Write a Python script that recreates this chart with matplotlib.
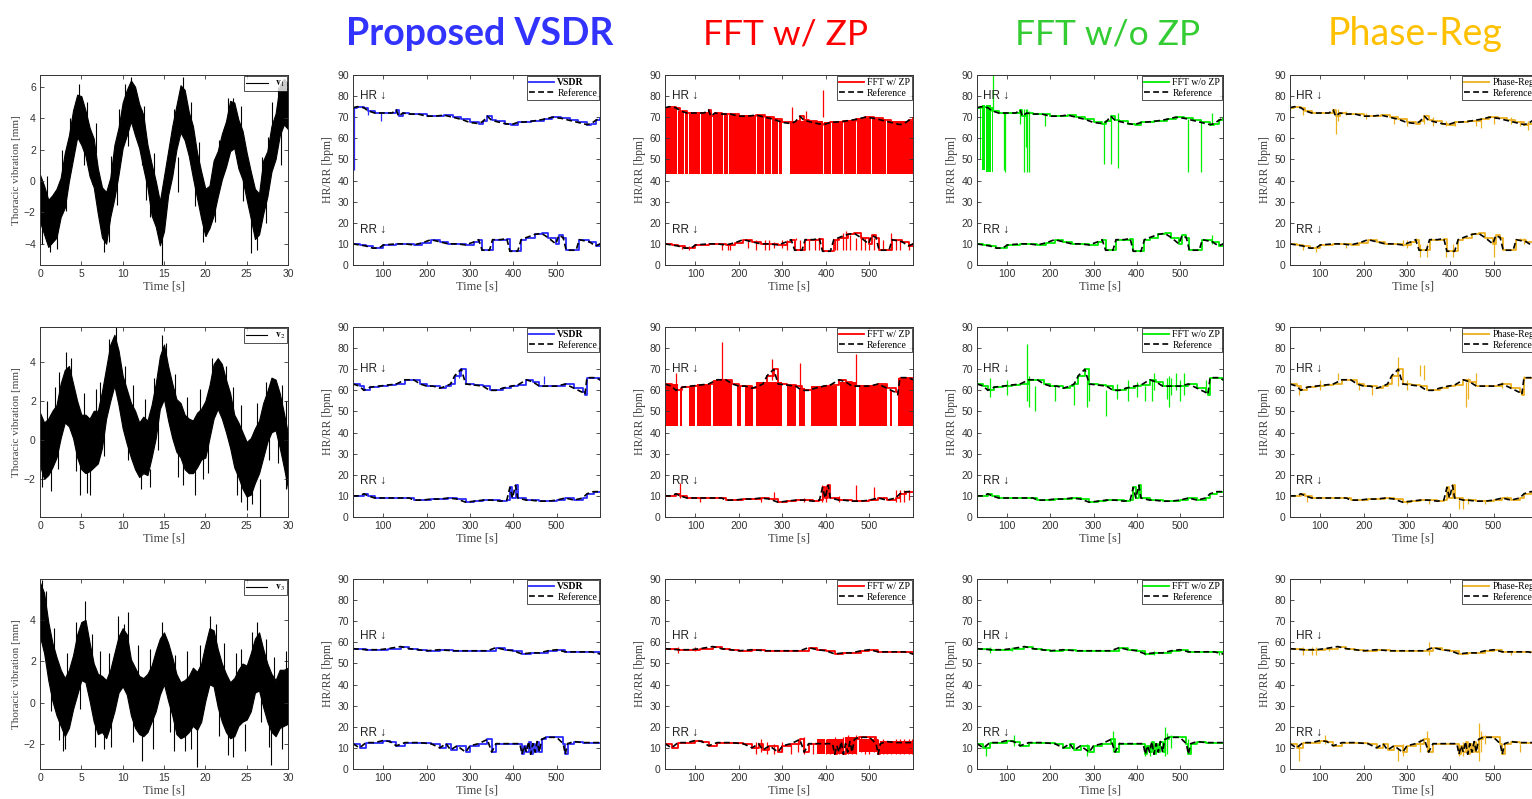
import numpy as np
import matplotlib.pyplot as plt

plt.rcParams['font.family'] = ['Liberation Sans', 'DejaVu Sans']
plt.rcParams['mathtext.fontset'] = 'stix'

# ---------------- thoracic vibration (envelopes read every 0.5 s) ----------------
vib_time = np.linspace(0, 30, 61)

v1_upper = [0.4, -0.3, -1.2, -0.9, -0.5, 0.2, 1.8, 2.9, 4.5, 5.5, 5.4, 4.5, 3.4, 2.7, 0.8, -0.4, -0.7, 0.2, 2.3, 3.4, 5.0,
            5.8, 6.4, 6.0, 4.9, 4.2, 2.3, 1.1, 0.0, -1.3, 0.3, 1.9, 3.5, 4.8, 6.1, 5.8, 4.4, 3.5, 1.8, 0.6, -0.5,
            -0.3, 1.3, 1.9, 3.0, 3.8, 5.1, 5.0, 3.9, 3.2, 1.8, 0.6, -0.5, -0.8, 1.3, 1.9, 3.5, 4.3, 6.1, 6.5, 6.2]
v1_lower = [-2.6, -3.4, -4.2, -3.9, -3.6, -2.3, -1.7, 0.0, 1.4, 2.8, 2.3, 1.6, 0.3, -0.4, -2.1, -3.6, -4.0, -2.3, -1.1, 0.4, 2.1,
            2.9, 3.8, 2.9, 2.1, 0.8, -0.4, -2.2, -2.9, -4.1, -3.2, -0.9, 0.3, 2.0, 3.1, 2.6, 1.6, 0.2, -1.1, -2.4, -3.5,
            -3.0, -2.2, -1.0, 0.1, 0.9, 1.9, 2.1, 0.8, 0.1, -1.2, -2.4, -3.7, -3.4, -2.1, -1.0, 0.6, 1.4, 2.9, 3.6, 3.3]
v1_spikes = [(4.7, 3.0, 6.2), (11.0, 4.5, 6.6), (14.8, -5.4, -2.5), (17.3, 4.0, 6.6), (25.5, -4.6, -2.0),
             (1.2, -4.5, -3.0), (7.7, -4.5, -3.0), (23.3, 3.5, 5.3), (28.1, 2.0, 5.0), (20.1, -3.5, -2.0),
             (2.0, -4.3, -3.0), (12.3, 1.0, 4.5),
             (0.8, -1.8, 0.3), (2.7, 0.0, 2.0), (3.6, 2.0, 4.0), (5.7, 3.2, 5.0), (6.8, 1.8, 3.7), (8.6, -0.5, 1.6),
             (9.6, 2.5, 4.6), (10.3, 4.5, 6.2), (12.6, 3.0, 4.8), (13.8, -0.2, 1.8), (16.2, 2.6, 4.6), (18.3, 3.0, 5.0),
             (19.2, 0.5, 2.5), (21.6, 0.5, 2.6), (22.7, 3.2, 5.3), (24.3, 2.6, 4.8), (26.8, -1.0, 1.5), (27.6, 0.5, 2.8),
             (28.8, 3.8, 6.0),
             (0.3, -4.0, -2.5), (3.2, -1.9, 0.0), (5.3, 1.0, 3.0), (6.3, -0.2, 1.9), (8.3, -3.9, -1.9), (9.3, -1.5, 0.7),
             (10.7, 2.2, 4.3), (12.8, -1.2, 0.9), (13.3, -2.3, -0.2), (16.7, -0.7, 1.5), (18.7, -1.6, 0.6),
             (19.7, -3.9, -1.9), (21.2, -2.6, -0.6), (24.6, -1.3, 0.9), (26.2, -4.4, -2.6), (27.3, -2.7, -0.5),
             (29.2, 1.0, 3.2)]

v2_upper = [1.4, 0.9, 1.1, 1.5, 1.8, 2.9, 3.6, 3.8, 2.9, 2.0, 1.3, 1.3, 1.1, 1.5, 1.5, 2.5, 3.7, 4.9, 5.4, 4.6, 3.3,
            2.6, 1.9, 1.5, 0.9, 1.2, 1.0, 1.8, 2.9, 4.3, 4.9, 3.8, 2.9, 2.1, 1.9, 1.3, 1.1, 1.0, 1.4, 1.6, 2.0,
            2.8, 3.9, 4.2, 3.9, 3.1, 2.4, 1.3, 0.9, 0.4, -0.1, 0.1, 0.6, 1.0, 1.9, 2.5, 3.2, 3.1, 2.4, 1.4, 0.3]
v2_lower = [-1.3, -2.0, -1.8, -1.4, -0.9, 0.1, 0.9, 0.7, 0.1, -0.9, -1.5, -1.7, -1.6, -1.4, -1.2, -0.4, 1.1, 2.0, 2.8, 1.8, 0.6,
            -0.2, -0.9, -1.5, -1.9, -1.7, -1.8, -0.9, 0.1, 1.6, 2.1, 1.0, 0.1, -0.6, -0.9, -1.5, -1.7, -1.7, -1.4, -1.0, -0.9,
            0.1, 1.1, 1.6, 1.1, 0.4, -0.4, -1.4, -1.9, -2.5, -2.9, -2.8, -2.2, -1.7, -0.9, -0.1, 0.4, 0.5, -0.4, -1.4, -2.5]
v2_spikes = [(3.2, 2.0, 4.5), (9.2, 3.0, 5.8), (14.8, 3.0, 5.4), (21.8, 2.0, 3.8), (22.5, 2.0, 3.8), (28.5, 1.0, 2.9),
             (4.8, -2.8, -1.0), (6.0, -2.8, -1.0), (25.0, -3.6, -2.0), (25.6, -3.3, -2.0), (26.6, -4.0, -2.0),
             (0.3, -2.4, -1.0), (18.8, -2.8, -1.5), (13.3, -2.4, -1.5), (29.8, -2.5, 2.0),
             (0.8, 0.0, 2.0), (1.8, 0.7, 2.7), (2.3, 1.5, 3.5), (3.8, 2.3, 4.2), (5.3, 0.3, 2.4), (6.8, 0.5, 2.6),
             (7.3, 1.0, 3.0), (8.3, 3.3, 5.2), (10.3, 1.9, 3.8), (11.3, 0.7, 2.8), (12.7, 0.1, 2.1), (13.8, 1.3, 3.2),
             (15.3, 3.2, 5.0), (16.3, 1.5, 3.4), (17.8, 0.2, 2.2), (19.3, 0.5, 2.6), (20.8, 2.3, 4.2), (23.3, 0.8, 2.7),
             (24.3, -0.4, 1.8), (26.3, -0.2, 1.9), (27.3, 1.2, 3.0), (29.3, 0.9, 2.8),
             (1.3, -2.6, -0.6), (2.2, -1.5, 0.6), (4.3, -1.6, 0.6), (5.7, -2.7, -0.6), (7.8, -0.8, 1.4),
             (10.7, -1.0, 1.2), (12.2, -2.5, -0.6), (14.3, -0.5, 1.8), (16.7, -1.9, 0.2), (17.3, -2.3, -0.2),
             (19.7, -2.0, 0.0), (20.3, -1.7, 0.5), (23.8, -2.8, -0.7), (24.3, -3.2, -1.2), (27.7, -1.0, 1.1),
             (28.8, -1.2, 1.0)]

v3_upper = [5.8, 5.3, 3.9, 2.9, 2.2, 1.6, 1.2, 1.6, 2.3, 3.3, 3.9, 4.0, 2.9, 1.9, 1.4, 1.3, 1.1, 1.6, 2.4, 3.2, 3.6,
            3.3, 2.1, 1.7, 1.3, 1.2, 1.4, 1.8, 2.5, 3.1, 3.4, 2.9, 2.2, 1.4, 1.0, 1.1, 1.3, 1.7, 1.5, 1.9, 2.8,
            3.6, 3.5, 2.6, 1.9, 1.4, 1.0, 1.2, 1.6, 1.9, 1.8, 2.4, 3.1, 3.4, 2.6, 1.9, 1.4, 1.1, 1.6, 1.6, 1.7]
v3_lower = [3.2, 2.4, 1.1, 0.1, -0.6, -1.1, -1.6, -1.2, -0.3, 0.4, 1.1, 1.0, 0.1, -0.9, -1.5, -1.4, -1.7, -1.1, -0.4, 0.5, 0.8,
            0.4, -0.6, -1.2, -1.5, -1.6, -1.4, -0.9, -0.4, 0.4, 0.9, 0.1, -0.6, -1.5, -1.7, -1.6, -1.4, -1.1, -1.3, -0.9, 0.1,
            0.9, 0.8, -0.2, -0.9, -1.4, -1.7, -1.6, -1.1, -0.9, -0.8, -0.4, 0.5, 0.6, -0.2, -0.9, -1.4, -1.6, -1.2, -1.1, -1.0]
v3_spikes = [(0.2, 3.0, 5.9), (5.4, 3.0, 4.9), (9.4, 2.0, 4.2), (10.2, 2.0, 3.8), (20.6, 2.0, 4.2), (26.3, 2.0, 3.9),
             (12.3, -2.8, -1.0), (19.0, -3.1, -1.0), (28.0, -3.0, -1.0), (3.0, -2.2, -1.0), (7.8, -2.2, -1.0),
             (16.2, -2.3, -1.0), (24.8, -2.3, -1.0), (2.3, -1.8, -0.5), (17.5, -2.3, -1.0),
             (0.7, 3.6, 5.4), (1.7, 1.6, 3.6), (3.3, 0.4, 2.4), (4.3, 2.0, 3.9), (6.3, 1.4, 3.3), (7.3, 0.4, 2.5),
             (8.3, 0.3, 2.4), (10.7, 2.6, 4.4), (11.8, 0.8, 2.8), (13.3, 0.6, 2.6), (14.7, 2.2, 3.9), (16.3, 0.2, 2.3),
             (17.8, 0.4, 2.5), (19.3, 0.7, 2.8), (21.3, 1.9, 3.8), (22.3, 0.8, 2.9), (23.7, 0.3, 2.4), (24.3, 0.5, 2.6),
             (25.7, 1.7, 3.4), (27.3, 1.2, 3.1), (28.3, 0.3, 2.2), (29.7, 0.6, 2.5),
             (1.3, -0.4, 1.5), (2.8, -2.3, -0.3), (4.8, -0.3, 1.8), (6.7, -2.1, -0.2), (8.6, -2.1, 0.0),
             (11.2, -1.9, 0.2), (13.7, -2.2, -0.2), (15.7, -1.4, 0.7), (18.3, -2.2, -0.2), (21.7, -1.6, 0.5),
             (22.8, -2.5, -0.4), (23.3, -2.6, -0.6), (26.7, -0.9, 1.2), (27.7, -2.1, -0.1), (29.3, -2.2, -0.3)]

# ---------------- reference HR / RR ----------------
hr_t1 = [30, 40, 55, 65, 80, 100, 120, 130, 135, 145, 160, 180, 200, 220, 240, 260, 280, 300, 320, 330,
         340, 350, 360, 380, 395, 410, 440, 470, 490, 510, 530, 550, 570, 580, 590, 600]
hr_ref1 = [74.5, 75, 74.5, 73, 72, 72, 72, 73.5, 70.5, 72, 71.5, 71.5, 70.5, 70.5, 71, 70, 69, 67.5, 67, 68,
           70.5, 68.5, 68, 67, 66.5, 67.5, 68, 69, 70, 69.5, 68.5, 67.5, 66.5, 67, 68.5, 69.5]
rr_t1 = [30, 45, 60, 75, 90, 100, 130, 150, 170, 190, 210, 230, 250, 270, 290, 310, 320, 328, 345, 352,
         370, 385, 392, 410, 418, 430, 450, 465, 480, 498, 505, 515, 522, 545, 552, 575, 590, 600]
rr_ref1 = [10, 9.5, 9, 8, 8, 9.5, 10, 10, 9.5, 10.5, 12, 11, 10, 10, 9.5, 11, 12, 7, 7, 12,
           12, 12.5, 6.5, 6.5, 12, 13, 14.5, 15, 13, 10, 14, 13, 7, 7, 12, 11, 9, 10]

hr_t2 = [30, 45, 55, 70, 90, 110, 130, 150, 170, 185, 200, 215, 230, 245, 255, 265, 280, 290, 310, 330,
         345, 360, 375, 395, 410, 430, 445, 460, 480, 500, 520, 540, 560, 565, 570, 590, 600]
hr_ref2 = [63, 62, 60, 61.5, 62, 62.5, 63, 65, 65, 63, 62, 62, 61, 62, 63, 67, 70, 63, 62.5, 62,
           60, 60, 61, 62, 62.5, 65, 64, 62, 62, 62, 63, 61, 59, 58, 66, 66, 65]
rr_t2 = [30, 45, 55, 65, 80, 100, 120, 140, 160, 170, 190, 210, 230, 250, 270, 290, 310, 330, 350, 370,
         385, 392, 398, 405, 410, 430, 440, 460, 480, 500, 520, 540, 560, 570, 585, 600]
rr_ref2 = [10, 10, 11, 10, 9, 9, 9, 9, 9, 8, 8, 8.5, 8.5, 9, 8.5, 7, 7.5, 8, 8, 7.5,
           8, 14, 9, 15, 9, 8, 8, 7.5, 7.5, 8, 9, 8, 9, 11, 12, 12]

hr_t3 = [30, 60, 90, 110, 140, 160, 180, 200, 230, 260, 300, 340, 360, 380, 400, 420, 440, 460, 480, 500,
         520, 550, 580, 600]
hr_ref3 = [57, 56.5, 56.5, 57, 58, 57, 56.5, 56, 56.5, 56, 56, 56, 57.5, 56.5, 56, 54.5, 55, 55, 56, 56.5,
           55.5, 55.5, 55.5, 54.5]
rr_t3 = [30, 45, 60, 80, 100, 115, 130, 150, 180, 210, 230, 245, 255, 270, 290, 300, 320, 340, 350, 360,
         380, 400, 415, 420, 425, 430, 435, 440, 445, 450, 455, 460, 465, 475, 500, 515, 520, 525, 540, 560, 600]
rr_ref3 = [12, 10, 12.5, 12.5, 13.5, 13, 11, 12.5, 12.5, 12, 10, 12, 9, 11, 8, 11, 12, 14, 8, 12,
           12, 12, 12, 7, 11, 8, 13, 7, 12, 8, 13, 8, 14, 15, 15, 12, 7, 12, 13, 12.5, 12.5]

# ---------------- estimator outliers: (time, from, to) ----------------
vsdr_spikes_1 = [(32, 45, 75), (95, 68, 72), (65, 71, 73)]
vsdr_spikes_2 = [(275, 66, 70), (470, 63, 67)]
vsdr_spikes_3 = [(350, 8, 12)]

zp_fill_1 = [(30, 57, 74.5), (59, 74, 73), (76, 84, 72.5), (86, 111, 72.5), (113, 139, 72.5), (141, 164, 72),
             (166, 174, 71.5), (176, 239, 71), (241, 257, 71), (259, 274, 70.5), (276, 289, 69.5),
             (291, 300, 68.5), (318, 394, 68), (396, 411, 67.5), (413, 429, 68), (431, 439, 68),
             (441, 469, 68.5), (471, 504, 69.5), (506, 539, 69), (541, 600, 68)]
zp_fill_2 = [(30, 60, 63), (64, 68, 61), (85, 100, 62), (104, 135, 63), (140, 185, 65), (195, 205, 62),
             (215, 232, 62), (240, 300, 64), (310, 330, 62.5), (338, 352, 61), (365, 425, 62),
             (432, 470, 64), (475, 540, 62.5), (548, 552, 60), (565, 600, 66)]
zp_spikes_1 = [(322, 67, 75), (393, 70, 83), (355, 68, 73), (70, 7.5, 9), (85, 7, 9), (160, 7, 10),
               (175, 7, 10), (180, 7, 10), (220, 8, 12), (240, 7, 12), (260, 7, 12), (270, 7, 12),
               (280, 8, 11), (300, 8, 12), (310, 7, 12), (330, 12, 13), (340, 7, 12), (360, 7, 12),
               (375, 7, 12), (385, 7, 13), (420, 7, 12), (425, 7, 13), (440, 7, 15), (445, 7, 16),
               (455, 7, 14), (470, 7, 13), (480, 7, 14), (490, 7, 13), (500, 7, 12), (510, 7, 13),
               (530, 7, 12), (550, 7, 15), (560, 7, 12), (570, 7, 12), (590, 7, 10)]
zp_spikes_2 = [(160, 62, 83), (275, 65, 75), (470, 62, 77), (340, 60, 73), (55, 60, 68),
               (65, 9, 16), (110, 7, 9), (280, 9, 12), (390, 7, 15), (400, 7, 15), (470, 8, 15),
               (510, 8, 14), (560, 7, 13), (570, 7, 13), (580, 7, 13), (590, 8, 13), (250, 7, 9),
               (350, 7, 9), (430, 7, 10)]
zp_spikes_3 = [(60, 55, 58), (100, 56, 58), (240, 7, 13), (250, 8, 14), (265, 7, 13), (280, 7, 12),
               (300, 8, 13), (320, 7, 12), (335, 8, 14), (350, 7, 15), (370, 7, 12), (385, 8, 14),
               (400, 7, 14), (410, 7, 13), (420, 7, 15), (430, 7, 14), (440, 7, 15), (450, 7, 16),
               (460, 7, 15), (470, 7, 16), (480, 8, 15), (490, 7, 14), (500, 7, 15), (510, 8, 15),
               (520, 7, 14), (530, 7, 14), (540, 7, 13), (550, 7, 13), (560, 7, 14), (570, 7, 14),
               (580, 7, 14), (590, 7, 14), (598, 7, 14)]
zp_rr_fill_3 = [(380, 398, 7, 14), (402, 440, 7, 14), (444, 470, 7, 15), (475, 520, 8, 14), (525, 600, 7, 13.5)]

nozp_fill_1 = [(30, 33, 44, 75), (36, 40, 50, 75), (42, 48, 45, 76), (50, 62, 44, 76), (64, 68, 44, 75)]
nozp_spikes_1 = [(66, 73, 90), (93, 45, 72), (95, 44, 72), (140, 44, 74), (143, 56, 74), (147, 44, 74),
                 (150, 44, 73), (188, 66, 71), (325, 48, 68), (340, 48, 70), (357, 46, 72), (520, 44, 69),
                 (550, 44, 68), (575, 67, 72), (130, 67, 74), (575, 10, 14)]
nozp_spikes_2 = [(60, 57, 66), (100, 58, 65), (145, 55, 82), (150, 52, 67), (165, 50, 62), (210, 55, 62),
                 (255, 53, 62), (285, 52, 65), (290, 55, 63), (330, 48, 60), (355, 56, 63), (380, 55, 65),
                 (400, 57, 64), (420, 55, 62), (435, 55, 65), (440, 60, 68), (470, 56, 66), (475, 52, 67),
                 (480, 58, 66), (490, 60, 68), (500, 55, 65), (510, 58, 68), (560, 60, 65)]
nozp_spikes_3 = [(60, 55, 58), (110, 56, 58), (360, 56, 58), (420, 54, 56), (440, 54, 56), (590, 54, 56),
                 (50, 6, 12), (115, 11, 16), (285, 6, 12), (345, 8, 18), (420, 6, 12), (430, 6, 12),
                 (465, 6, 20), (470, 7, 17), (480, 10, 16), (520, 8, 14), (360, 10, 13)]

pr_spikes_1 = [(30, 73, 76), (60, 71, 74), (135, 62, 73), (140, 68, 74), (160, 71, 73), (205, 69, 72),
               (270, 67, 70), (300, 66, 68), (340, 67, 71), (360, 66, 70), (390, 66, 68), (410, 66, 68),
               (460, 66, 69), (470, 65, 69), (500, 67, 70), (540, 67, 70), (560, 66, 68), (580, 64, 68),
               (60, 7, 9), (90, 6, 9), (160, 8, 10), (290, 9, 12), (300, 8, 12), (320, 11, 13), (330, 4, 10),
               (345, 4, 10), (355, 12, 13), (390, 4, 10), (405, 4, 10), (500, 4, 12), (560, 12, 13), (570, 10, 13)]
pr_spikes_2 = [(50, 58, 62), (100, 60, 65), (140, 65, 68), (190, 60, 64), (220, 58, 62), (280, 62, 76),
               (300, 60, 65), (330, 67, 72), (340, 65, 72), (435, 52, 64), (440, 56, 66), (460, 64, 68),
               (520, 61, 64), (570, 65, 67), (70, 7, 10), (300, 6, 8), (350, 6, 8), (420, 4, 8), (430, 4, 8),
               (440, 6, 9), (480, 6, 8), (530, 8, 10)]
pr_spikes_3 = [(60, 54, 58), (80, 54, 58), (90, 54, 58), (120, 56, 58), (350, 54, 60), (540, 54, 56),
               (50, 4, 12), (110, 12, 16), (280, 4, 10), (290, 6, 12), (345, 8, 18), (330, 8, 14), (420, 6, 12),
               (430, 6, 13), (465, 4, 22), (470, 8, 18), (480, 12, 16), (500, 14, 15), (560, 8, 12)]

methods = ['VSDR', 'FFT w/ ZP', 'FFT w/o ZP', 'Phase-Reg']
method_colors = ['#2b2bff', '#ff0000', '#00ee00', '#edb120']
headers = ['Proposed VSDR', 'FFT w/ ZP', 'FFT w/o ZP', 'Phase-Reg']
header_colors = ['#3333ff', '#ff0000', '#33cc33', '#ffc000']
hr_label_y = [80, 70, 63]
rr_label_y = [16.5, 17, 17]

# ---------------- layout ----------------
W, H = 1532, 799
fig = plt.figure(figsize=(W / 100, H / 100), dpi=100)
col_left = [40, 353, 665, 977, 1290]
col_width = [248, 247, 248, 246, 247]
row_top = [75, 327, 579]
row_h = 190

serif = 'Liberation Serif'
label_col = '#444444'


def make_ax(r, c):
    ax = fig.add_axes([col_left[c] / W, 1 - (row_top[r] + row_h) / H, col_width[c] / W, row_h / H])
    ax.tick_params(direction='in', top=True, right=True, length=3, width=0.6,
                   labelsize=7.5, colors='#333333', pad=3)
    for s in ax.spines.values():
        s.set_color('#333333')
        s.set_linewidth(0.7)
    ax.set_xlabel('Time [s]', family=serif, fontsize=9, color=label_col, labelpad=1)
    return ax


vib_up = [v1_upper, v2_upper, v3_upper]
vib_lo = [v1_lower, v2_lower, v3_lower]
vib_spk = [v1_spikes, v2_spikes, v3_spikes]
vib_ylim = [(-5.35, 6.75), (-3.95, 5.8), (-3.18, 5.97)]
vib_ticks = [[-4, -2, 0, 2, 4, 6], [-2, 0, 2, 4], [-2, 0, 2, 4]]

for r in range(3):
    ax = make_ax(r, 0)
    ax.fill_between(vib_time, vib_lo[r], vib_up[r], color='black', lw=0.8)
    sp = np.array(vib_spk[r])
    ax.vlines(sp[:, 0], sp[:, 1], sp[:, 2], color='black', lw=0.8)
    ax.plot([], [], color='black', lw=0.8, label=r'$\mathbf{v}_%d$' % (r + 1))
    ax.set_xlim(0, 30)
    ax.set_xticks([0, 5, 10, 15, 20, 25, 30])
    ax.set_ylim(*vib_ylim[r])
    ax.set_yticks(vib_ticks[r])
    ax.set_ylabel('Thoracic vibration [mm]', family=serif, fontsize=8, color=label_col, labelpad=2)
    leg = ax.legend(loc='upper right', fontsize=7, frameon=True, fancybox=False, edgecolor='black',
                    borderaxespad=0.1, handlelength=2.2, borderpad=0.2)
    leg.get_frame().set_linewidth(0.6)

hr_t = [hr_t1, hr_t2, hr_t3]
hr_ref = [hr_ref1, hr_ref2, hr_ref3]
rr_t = [rr_t1, rr_t2, rr_t3]
rr_ref = [rr_ref1, rr_ref2, rr_ref3]
spikes = [[vsdr_spikes_1, vsdr_spikes_2, vsdr_spikes_3],
          [zp_spikes_1, zp_spikes_2, zp_spikes_3],
          [nozp_spikes_1, nozp_spikes_2, nozp_spikes_3],
          [pr_spikes_1, pr_spikes_2, pr_spikes_3]]

for c, (name, col) in enumerate(zip(methods, method_colors)):
    for r in range(3):
        ax = make_ax(r, c + 1)
        # estimates
        ax.plot(hr_t[r], hr_ref[r], color=col, lw=1.3, drawstyle='steps-post', label=name)
        ax.plot(rr_t[r], rr_ref[r], color=col, lw=1.3, drawstyle='steps-post')
        if c == 1 and r < 2:
            for t0, t1, top in [zp_fill_1, zp_fill_2][r]:
                ax.fill_between([t0, t1], [43, 43], [top, top], color=col, lw=0)
        if c == 1 and r == 2:
            for t0, t1, lo, hi in zp_rr_fill_3:
                ax.fill_between([t0, t1], [lo, lo], [hi, hi], color=col, lw=0)
        if c == 2 and r == 0:
            for t0, t1, lo, hi in nozp_fill_1:
                ax.fill_between([t0, t1], [lo, lo], [hi, hi], color=col, lw=0)
        sp = np.array(spikes[c][r])
        ax.vlines(sp[:, 0], sp[:, 1], sp[:, 2], color=col, lw=0.9)
        # reference
        ax.plot(hr_t[r], hr_ref[r], color='black', lw=1.2, ls=(0, (3.5, 2)), label='Reference')
        ax.plot(rr_t[r], rr_ref[r], color='black', lw=1.2, ls=(0, (3.5, 2)))
        ax.set_xlim(30, 600)
        ax.set_xticks([100, 200, 300, 400, 500])
        ax.set_ylim(0, 90)
        ax.set_yticks(range(0, 91, 10))
        ax.set_ylabel('HR/RR [bpm]', family=serif, fontsize=8.5, color=label_col, labelpad=2)
        ax.text(45, hr_label_y[r], 'HR \u2193', fontsize=8.5, color='#222222', va='center')
        ax.text(45, rr_label_y[r], 'RR \u2193', fontsize=8.5, color='#222222', va='center')
        leg = ax.legend(loc='upper right', prop={'family': serif, 'size': 7}, frameon=True,
                        fancybox=False, edgecolor='black', borderaxespad=0.1, handlelength=2.6,
                        borderpad=0.2, labelspacing=0.2, handletextpad=0.3)
        leg.get_frame().set_linewidth(0.6)
        if c == 0:
            leg.get_texts()[0].set_fontweight('bold')

# column headers
header_x = [480, 786, 1108, 1415]
header_size = [27, 25.5, 25.5, 27]
for name, hc, hx, hs in zip(headers, header_colors, header_x, header_size):
    fig.text(hx / W, 1 - 34 / H, name, color=hc, fontsize=hs, family=['Lato', 'DejaVu Sans'],
             fontweight='bold' if name.startswith('Proposed') else 'normal', ha='center', va='center')

fig.savefig('out.png', dpi=100)
